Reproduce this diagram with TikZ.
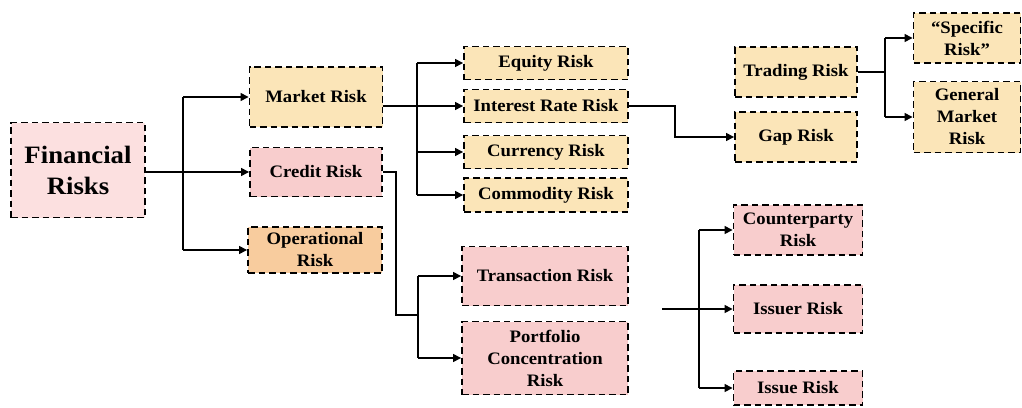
\documentclass[tikz,border=0pt]{standalone}
\usepackage{fontspec}
\setmainfont[FakeStretch=1.07]{Liberation Serif}
\usepackage{tikz}
\usetikzlibrary{arrows.meta}
\definecolor{mktorange}{RGB}{251,229,184}
\definecolor{crdpink}{RGB}{248,205,205}
\definecolor{finpink}{RGB}{252,224,224}
\definecolor{opsorange}{RGB}{248,204,158}
\begin{document}
\begin{tikzpicture}[x=1pt,y=-1pt]
\tikzstyle{box}=[draw=black, line width=1.9pt, dash pattern=on 6.5pt off 4pt, inner sep=1pt, align=center, font=\fontsize{17.5}{22}\selectfont\bfseries]
\tikzstyle{mkt}=[box, fill=mktorange]
\tikzstyle{crd}=[box, fill=crdpink]
\tikzstyle{link}=[line width=1.4pt]
\tikzstyle{arr}=[link, -{Triangle[length=8pt,width=8pt]}]
\useasboundingbox (0,0) rectangle (1022,407);
\node [box, fill=finpink, minimum width=134pt, minimum height=95pt, font=\fontsize{25}{31}\selectfont\bfseries] (fin) at (78,170) {Financial\\Risks};
\node [mkt, minimum width=133pt, minimum height=60pt] (market) at (316,97) {Market Risk};
\node [crd, minimum width=132pt, minimum height=49pt] (credit) at (316,172) {Credit Risk};
\node [box, fill=opsorange, minimum width=134pt, minimum height=46pt] (oper) at (315,250) {Operational\\Risk};
\node [mkt, minimum width=164pt, minimum height=33pt] (equity) at (546,63) {Equity Risk};
\node [mkt, minimum width=164pt, minimum height=33pt] (irate) at (546,106) {Interest Rate Risk};
\node [mkt, minimum width=164pt, minimum height=33pt] (curr) at (546,152) {Currency Risk};
\node [mkt, minimum width=164pt, minimum height=34pt] (commod) at (546,195) {Commodity Risk};
\node [crd, minimum width=166pt, minimum height=59pt] (trans) at (545,276) {Transaction Risk};
\node [crd, minimum width=166pt, minimum height=73pt] (portf) at (545,358) {Portfolio\\Concentration\\Risk};
\node [mkt, minimum width=122pt, minimum height=50pt] (trading) at (796,72) {Trading Risk};
\node [mkt, minimum width=122pt, minimum height=50pt] (gap) at (796,137) {Gap Risk};
\node [mkt, minimum width=107pt, minimum height=50pt] (specific) at (967,38) {“Specific\\Risk”};
\node [mkt, minimum width=107pt, minimum height=71pt] (general) at (967,117) {General\\Market\\Risk};
\node [crd, minimum width=129pt, minimum height=50pt] (cparty) at (798,230) {Counterparty\\Risk};
\node [crd, minimum width=129pt, minimum height=48pt] (issuer) at (798,309) {Issuer Risk};
\node [crd, minimum width=129pt, minimum height=34pt] (issue) at (798,388) {Issue Risk};
\coordinate (bus1) at (183,0);
\coordinate (bus2) at (417,0);
\coordinate (bus3) at (675,0);
\coordinate (bus4) at (885,0);
\coordinate (bus5) at (396,0);
\coordinate (cjoin) at (418,315);
\coordinate (bus7) at (699,0);
\coordinate (loose) at (662,309);
% financial risks
\draw [link] (fin.east |- credit) -- (bus1 |- credit);
\draw [link] (bus1 |- market) -- (bus1 |- oper);
\foreach \n in {market,credit,oper} \draw [arr] (bus1 |- \n) -- (\n.west);
% market risk
\draw [arr] (market.east |- irate) -- (irate.west);
\draw [link] (bus2 |- equity) -- (bus2 |- commod);
\foreach \n in {equity,curr,commod} \draw [arr] (bus2 |- \n) -- (\n.west);
\draw [arr] (irate.east) -- (bus3 |- irate) |- (gap.west);
\draw [link] (trading.east) -- (bus4 |- trading);
\draw [link] (bus4 |- specific) -- (bus4 |- general);
\foreach \n in {specific,general} \draw [arr] (bus4 |- \n) -- (\n.west);
% credit risk
\draw [link] (credit.east) -| (bus5 |- cjoin) -- (cjoin);
\draw [link] (cjoin |- trans) -- (cjoin |- portf);
\foreach \n in {trans,portf} \draw [arr] (cjoin |- \n) -- (\n.west);
\draw [arr] (loose) -- (issuer.west);
\draw [link] (bus7 |- cparty) -- (bus7 |- issue);
\foreach \n in {cparty,issue} \draw [arr] (bus7 |- \n) -- (\n.west);
\end{tikzpicture}
\end{document}
